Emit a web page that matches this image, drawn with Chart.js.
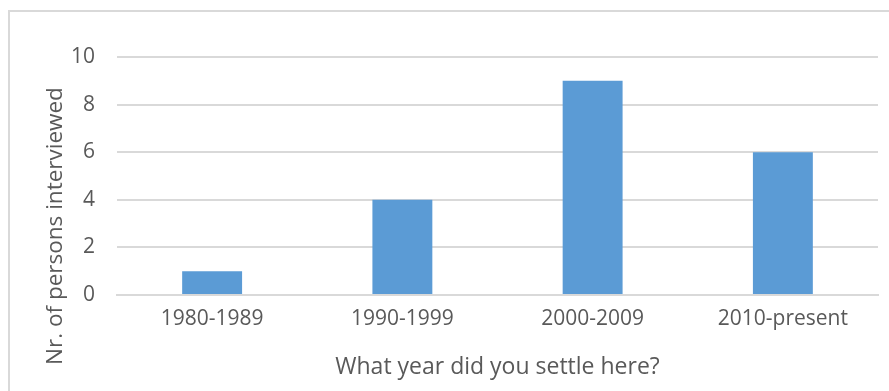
<!DOCTYPE html>
<html>
<head>
<meta charset="utf-8">
<script src="https://cdn.jsdelivr.net/npm/chart.js@4"></script>
<style>
    html, body { margin: 0; padding: 0; background: #fff; overflow: hidden; }
    #wrap { position: relative; width: 889px; height: 391px; }
    #frame { position: absolute; left: 8px; top: 10px; width: 900px; height: 400px; border: 2px solid #d9d9d9; box-sizing: border-box; }
    canvas { position: absolute; left: 0; top: 0; }
</style>
</head>
<body>
<div id="wrap">
    <div id="frame"></div>
    <canvas id="graph_years" width="889" height="391"></canvas>
</div>
<script>
const labels_years = ['1980-1989', '1990-1999', '2000-2009', '2010-present'];
const data_persons = [1, 4, 9, 6];
const y_ticks = [0, 2, 4, 6, 8, 10];
const y_title = 'Nr. of persons interviewed';
const x_title = 'What year did you settle here?';

const graph_years = document.getElementById('graph_years').getContext('2d');
const text_color = '#595959';
const grid_color = '#d9d9d9';
const font_family = "'Open Sans', 'Liberation Sans', sans-serif";

// vertical axis title, sits lower than the plot centre like the office layout
const yTitlePlugin = {
    id: 'yTitle',
    afterDraw: (chart) => {
        const ctx = chart.ctx;
        ctx.save();
        ctx.translate(56, 226);
        ctx.rotate(-Math.PI / 2);
        ctx.fillStyle = text_color;
        ctx.font = `22.5px ${font_family}`;
        ctx.textAlign = 'center';
        ctx.textBaseline = 'middle';
        ctx.fillText(y_title, 0, 0);
        ctx.restore();
    }
};

const years = new Chart(graph_years, {
    type: 'bar',
    data: {
        labels: labels_years,
        datasets: [{
            label: y_title,
            data: data_persons,
            backgroundColor: '#5b9bd5',
            borderWidth: 0,
            categoryPercentage: 1,
            barPercentage: 0.315
        }]
    },
    options: {
        responsive: false,
        animation: false,
        layout: {
            padding: { left: 0, right: 11, top: 57, bottom: 0 }
        },
        plugins: {
            legend: { display: false },
            tooltip: { enabled: false }
        },
        scales: {
            x: {
                grid: { display: false, drawTicks: false },
                border: { display: true, color: grid_color, width: 2 },
                ticks: {
                    color: text_color,
                    font: { family: font_family, size: 21 },
                    padding: 11
                },
                title: {
                    display: true,
                    text: x_title,
                    color: text_color,
                    font: { family: font_family, size: 23 },
                    padding: { top: 0, bottom: 10 }
                },
                afterFit: (scale) => { scale.height = 96; }
            },
            y: {
                min: 0,
                max: 10,
                afterBuildTicks: (scale) => {
                    scale.ticks = y_ticks.map((v) => ({ value: v }));
                },
                grid: { color: grid_color, lineWidth: 2, drawTicks: false },
                border: { display: false },
                ticks: {
                    color: text_color,
                    font: { family: font_family, size: 21 },
                    padding: 22
                },
                afterFit: (scale) => { scale.width = 117; }
            }
        }
    },
    plugins: [yTitlePlugin]
});
</script>
</body>
</html>
